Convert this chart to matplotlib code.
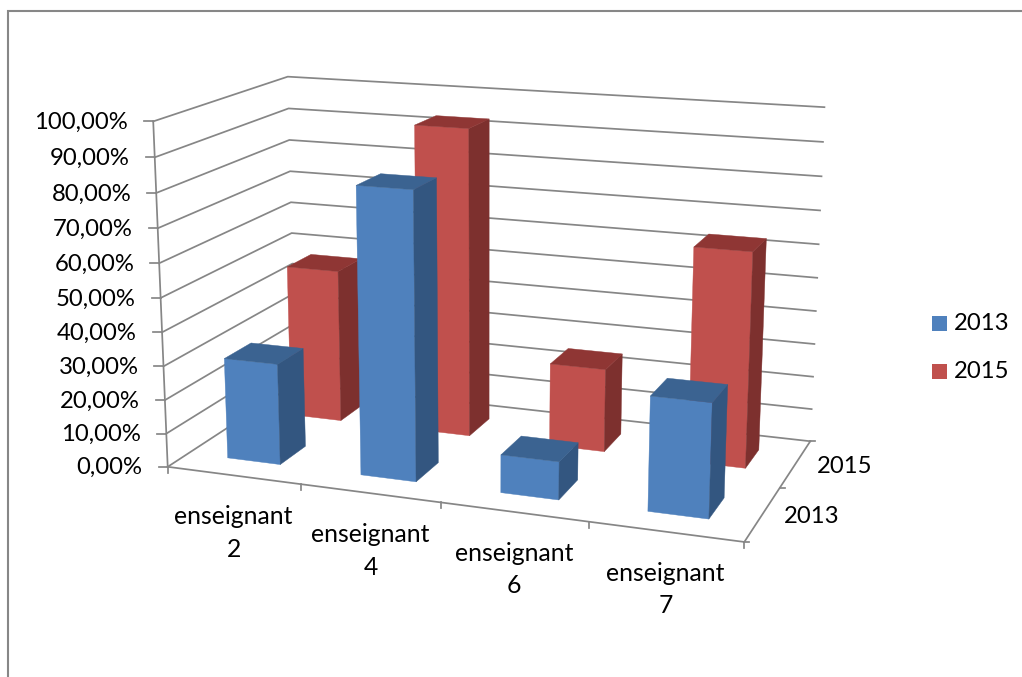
import numpy as np
import matplotlib
matplotlib.use('Agg')
import matplotlib.pyplot as plt
from matplotlib.patches import Polygon, Rectangle

# values in percent, one list per year
categories = ['enseignant\n2', 'enseignant\n4', 'enseignant\n6', 'enseignant\n7']
years = ['2013', '2015']
values_2013 = [30.0, 83.5, 11.0, 32.5]
values_2015 = [47.0, 93.0, 25.0, 63.5]
z_ticks = [0, 10, 20, 30, 40, 50, 60, 70, 80, 90, 100]

front_colors = ['#4F81BD', '#C0504D']
side_colors = ['#335680', '#7D302E']
top_colors = ['#3B6391', '#8F3634']
GRID = '#868686'

plt.rcParams['font.family'] = ['Lato', 'DejaVu Sans']

# camera calibration: unit box (x, depth, height) -> canvas pixels
box_pts = [(0, 0, 0), (0, 0, 1), (0, 1, 1), (1, 1, 1), (1, 1, 0), (1, 0, 0), (0, 1, 0),
           (.25, 0, 0), (.5, 0, 0), (.75, 0, 0), (0, 1, .5), (1, 1, .5), (1, .5, 0), (0, 0, .5)]
pix_pts = [(168, 466), (154, 121), (287, 77), (825, 107), (810, 441), (743, 540), (296, 382),
           (301, 487), (441, 505), (588, 522), (291, 234), (816.6, 279), (782, 487), (161, 296)]


def fit_camera(box, pix):
    rows = []
    for (x, d, z), (u, v) in zip(box, pix):
        u, v = u / 1000, v / 1000
        rows.append([x, d, z, 1, 0, 0, 0, 0, -u * x, -u * d, -u * z, -u])
        rows.append([0, 0, 0, 0, x, d, z, 1, -v * x, -v * d, -v * z, -v])
    _, _, vt = np.linalg.svd(np.array(rows))
    return vt[-1].reshape(3, 4)


CAM = fit_camera(box_pts, pix_pts)


def proj(x, d, z):
    h = CAM @ np.array([x, d, z, 1.0])
    return 1000 * h[0] / h[2], 1000 * h[1] / h[2]


fig = plt.figure(figsize=(10.22, 6.77), dpi=100)
ax = fig.add_axes([0, 0, 1, 1])
ax.set_xlim(0, 1022)
ax.set_ylim(677, 0)
ax.axis('off')

# outer chart border
ax.plot([8, 8, 1022], [677, 11, 11], color='#878787', lw=1.5, solid_joinstyle='miter')
ax.text(263, -5, 'p', family=['Liberation Serif'], fontweight='bold', fontsize=17,
        ha='center', va='baseline', clip_on=True)

# wall gridlines and value axis
for t in z_ticks:
    z = t / 100
    pts = [proj(0, 0, z), proj(0, 1, z), proj(1, 1, z)]
    ax.plot(*zip(*pts), color=GRID, lw=1.25, zorder=1)
    fx, fy = pts[0]
    ax.plot([fx - 9, fx], [fy, fy], color=GRID, lw=1.25, zorder=1)
    ax.text(fx - 25, fy + 1, f'{t},00%', ha='right', va='center', fontsize=17.2, color='black')
ax.plot(*zip(proj(0, 0, 0), proj(0, 0, 1)), color=GRID, lw=1.25, zorder=1)

# floor edges
ax.plot(*zip(proj(0, 0, 0), proj(1, 0, 0), proj(1, 1, 0)), color=GRID, lw=1.25, zorder=1)

# category ticks and labels
for i in range(len(categories) + 1):
    px, py = proj(i / 4, 0, 0)
    ax.plot([px, px], [py, py + 6], color=GRID, lw=1.25, zorder=1)
for i, name in enumerate(categories):
    px, py = proj((i + .5) / 4, 0, 0)
    ax.text(px, py + 30, name, ha='center', va='top', fontsize=17.8, linespacing=1.5)

# depth ticks and labels
for d in [0, .5, 1]:
    px, py = proj(1, d, 0)
    ax.plot([px, px + 5], [py, py], color=GRID, lw=1.25, zorder=1)
for s, year in enumerate(years):
    px, py = proj(1, (s + .5) / 2, 0)
    ax.text(px + 49.5, py + 2 + s, year, ha='center', va='center', fontsize=17.2)

# bars, back row first so the front row overlaps it
series = [values_2013, values_2015]
for s in [1, 0]:
    for i, val in enumerate(series[s]):
        x0, x1 = (i + .3) / 4, (i + .7) / 4
        d0, d1 = (s + .3) / 2, (s + .7) / 2
        z = val / 100
        faces = [
            ([(x0, d0, 0), (x1, d0, 0), (x1, d0, z), (x0, d0, z)], front_colors[s]),
            ([(x1, d0, 0), (x1, d1, 0), (x1, d1, z), (x1, d0, z)], side_colors[s]),
            ([(x0, d0, z), (x1, d0, z), (x1, d1, z), (x0, d1, z)], top_colors[s]),
        ]
        for corners, color in faces:
            poly = [proj(*c) for c in corners]
            ax.add_patch(Polygon(poly, closed=True, facecolor=color, edgecolor=color,
                                 lw=0.3, zorder=3 + (1 - s)))

# legend
for k, year in enumerate(years):
    top = 316 + 48 * k
    ax.add_patch(Rectangle((932, top), 15, 15, facecolor=front_colors[k], edgecolor='none'))
    ax.text(954, top + 7.5, year, ha='left', va='center', fontsize=17.2)

fig.savefig('out.png', dpi=100)
